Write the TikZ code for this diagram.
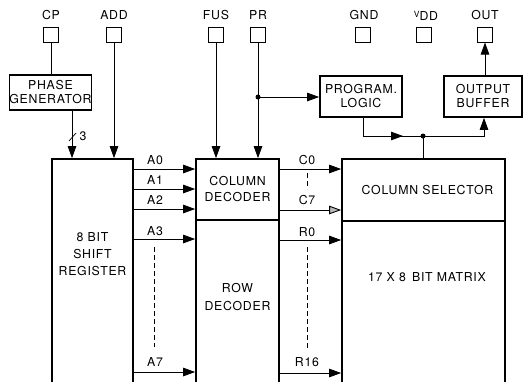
\documentclass[tikz,border=0pt]{standalone}
\usepackage{fontspec}
\setmainfont[LetterSpace=6]{TeX Gyre Heros}
\usetikzlibrary{arrows.meta}
\begin{document}
\begin{tikzpicture}[x=1pt,y=-1pt,
  font=\fontsize{12.3}{14}\selectfont,
  pad/.style={draw, line width=1pt, minimum width=15pt, minimum height=15pt, inner sep=0pt},
  blk/.style={draw, line width=1.7pt, inner sep=0pt, align=center},
  txt/.style={inner sep=0pt, align=center},
  wire/.style={line width=0.9pt},
  tip/.style={-{Triangle[length=12pt,width=8.5pt]}},
  arr/.style={wire, tip},
  dsh/.style={line width=0.6pt, dash pattern=on 5pt off 3pt},
  dot/.style={circle, fill, inner sep=0pt, minimum size=5pt}
]
\useasboundingbox (0,0) rectangle (532,381);

% pads and labels
\node[pad] (pCP)  at (51,34.5) {};
\node[pad] (pADD) at (114,34.5) {};
\node[pad] (pFUS) at (216,34.5) {};
\node[pad] (pPR)  at (258,34.5) {};
\node[pad] (pGND) at (363,34.5) {};
\node[pad] (pVDD) at (424,34.5) {};
\node[pad] (pOUT) at (485,34.5) {};
\node[txt] (lCP)  at (51,15) {CP};
\node[txt] (lADD) at (114,15) {ADD};
\node[txt] (lFUS) at (216,15) {FUS};
\node[txt] (lPR)  at (258,15) {PR};
\node[txt] (lGND) at (364,15) {GND};
\node[txt] (lVDD) at (426,16) {\raisebox{3pt}{\fontsize{8.5}{9}\selectfont V}DD};
\node[txt] (lOUT) at (485,15) {OUT};

% blocks
\node[blk, minimum width=81pt, minimum height=35pt] (pg) at (50.5,92.5) {PHASE\\GENERATOR};
\node[blk, minimum width=82pt, minimum height=41pt] (pl) at (361,96.5) {PROGRAM.\\LOGIC};
\node[blk, minimum width=78pt, minimum height=41pt] (ob) at (483,96.5) {OUTPUT\\BUFFER};

\node[blk, minimum width=81pt, minimum height=240pt] (sr) at (92.5,279) {};
\node[txt] (srt) at (92.5,254) {8 BIT\\[3pt]SHIFT\\[3pt]REGISTER};

\node[blk, minimum width=83pt, minimum height=61pt] (cd) at (237.5,189.5) {COLUMN\\[2pt]DECODER};
\node[blk, minimum width=83pt, minimum height=179pt] (rd) at (237.5,309.5) {};
\node[txt] (rdt) at (237.5,297.5) {ROW\\[4pt]DECODER};

\node[blk, minimum width=163pt, minimum height=62pt] (cs) at (423.5,190) {\hspace*{8pt}COLUMN SELECTOR};
\node[blk, minimum width=163pt, minimum height=178pt] (bm) at (423.5,310) {};
\node[txt] (bmt) at (427,277) {17 X 8\,\,\,BIT MATRIX};

% top connections
\draw[wire] (pCP) -- (pg.north -| pCP);
\draw[arr] (pg.south -| 72,0) -- (sr.north -| 72,0);
\draw[line width=0.7pt] (69,141) -- (76,133);
\node[txt] (n3) at (83,136.5) {3};
\draw[arr] (pADD) -- (sr.north -| pADD);
\draw[arr] (pFUS) -- (cd.north -| pFUS);
\coordinate (jPR) at (258,97);
\draw[arr] (pPR) -- (cd.north -| pPR);
\draw[arr] (jPR) -- (pl.west |- jPR);
\node[dot] at (jPR) {};
\draw[arr] (ob.north -| pOUT) -- (pOUT);

\coordinate (bend1) at (363,136);
\coordinate (jM) at (423,136);
\coordinate (bend2) at (484,136);
\draw[wire] (pl.south -| bend1) -- (bend1) -- (jM);
\draw[arr] (bend1) -- (403,136);
\draw[arr] (jM) -- (bend2) -- (ob.south -| bend2);
\draw[wire] (jM) -- (cs.north -| jM);
\node[dot] at (jM) {};

% A lines
\foreach \n/\y/\ly in {A0/169/160, A1/189/180, A2/209/200, A3/239/231, A7/372/362} {
  \coordinate (y\n) at (0,\y);
  \draw[arr] (sr.east |- y\n) -- (cd.west |- y\n);
  \node[txt] at (155,\ly) {\n};
}
\draw[dsh] (154,247) -- (154,347);

% C / R lines
\foreach \n/\y/\ly in {C0/169/160, R0/240/232, R16/373/362} {
  \coordinate (y\n) at (0,\y);
  \draw[arr] (cd.east |- y\n) -- (cs.west |- y\n);
  \node[txt] at (307,\ly) {\n};
}
\coordinate (yC7) at (0,210);
\draw[wire, -{Triangle[length=12pt,width=8.5pt,fill=gray!55]}, draw=black] (cd.east |- yC7) -- (cs.west |- yC7);
\node[txt] at (307,200.5) {C7};
\draw[dsh] (307,173) -- (307,189);
\draw[dsh] (307,247) -- (307,350);
\end{tikzpicture}
\end{document}
